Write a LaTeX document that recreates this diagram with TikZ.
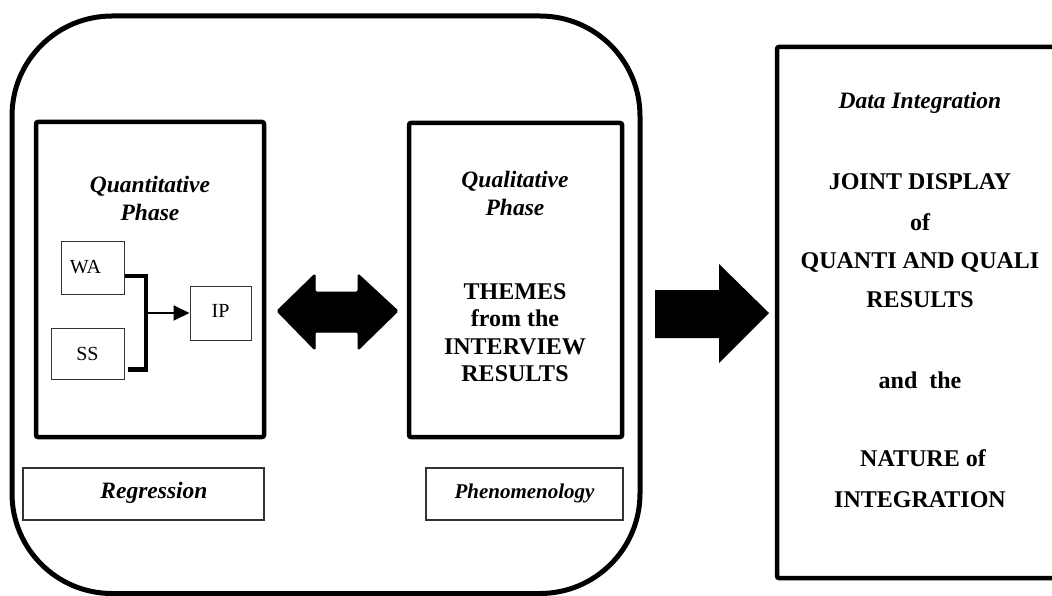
\documentclass[tikz,border=0pt]{standalone}
\usepackage{fontspec}
\setmainfont{Liberation Serif}
\usetikzlibrary{arrows.meta}
\begin{document}
\begin{tikzpicture}[x=1pt,y=-1pt,
  bigbox/.style={draw, line width=4.5pt, rounded corners=2pt, inner sep=0pt},
  smallbox/.style={draw=black!80, line width=1pt, inner sep=0pt},
  methodbox/.style={draw=black!80, line width=1.2pt, inner sep=0pt},
  bi/.style={font=\fontsize{23.5}{28}\selectfont\bfseries\itshape, align=center, inner sep=0pt},
  bb/.style={font=\fontsize{24}{27.5}\selectfont\bfseries, align=center, inner sep=0pt},
  rm/.style={font=\fontsize{20}{24}\selectfont},
  conn/.style={line width=4pt},
  fatarrow/.style={fill=black, draw=black, line width=1pt}
]
\useasboundingbox (0,0) rectangle (1052,596);
\fill[white] (0,0) rectangle (1052,596);

% outer rounded frame
\draw[line width=5pt, rounded corners=100pt] (12,16) rectangle (640,593.5);

% quantitative phase
\node[bigbox, minimum width=228pt, minimum height=315pt] (quant) at (150,279.5) {};
\node[bi] (quantt) at (150,198) {Quantitative\\Phase};
\node[smallbox, rm, minimum width=63pt, minimum height=53pt] (WA) at (92.5,267.5) {WA\kern14pt\relax};
\node[smallbox, rm, minimum width=73pt, minimum height=51pt] (SS) at (87.5,353.5) {SS};
\node[smallbox, rm, minimum width=61pt, minimum height=54pt] (IP) at (220.5,313) {\raisebox{5pt}{IP}};
\coordinate (j1) at (146,276);
\coordinate (j2) at (146,371.5);
\coordinate (j3) at (146,313);
\coordinate (ss1) at (128,369.5);
\draw[conn] (WA.east |- j1) -- ([xshift=2pt]j1);
\draw[conn] ([yshift=2pt]j1) -- (j2);
\draw[line width=5pt] (ss1) -- ([xshift=2pt]j2 |- ss1);
\draw[line width=2pt, -{Triangle[length=16pt,width=15pt]}] (j3) -- (IP.west);

\node[methodbox, minimum width=241pt, minimum height=52pt] (regb) at (143.5,494) {};
\node[bi] (regt) at (154,493) {Regression};

% qualitative phase
\node[bigbox, minimum width=213pt, minimum height=314pt] (qual) at (515.5,280) {};
\node[bi] (qualt) at (515,193) {Qualitative\\Phase};
\node[bb] (themes) at (515,332.5) {THEMES\\from the\\INTERVIEW\\RESULTS};
\node[methodbox, minimum width=197pt, minimum height=52pt] (phenb) at (524.5,494) {};
\node[bi, font=\fontsize{21}{25}\selectfont\bfseries\itshape] (phent) at (524.5,493) {Phenomenology};

% double arrow
\filldraw[fatarrow, rounded corners=1.5pt] (277,311) -- (315,274) -- (315,292) -- (358,292) -- (358,274)
  -- (398,311) -- (358,350) -- (358,332) -- (315,332) -- (315,350) -- cycle;

% right arrow
\fill[black] (655,290) -- (719,290) -- (719,264) -- (769,313) -- (719,363) -- (719,338) -- (655,338) -- cycle;

% data integration
\node[bigbox, minimum width=285pt, minimum height=531pt] (data) at (919.5,312.5) {};
\node[bi] (d0) at (920,103) {Data Integration};
\node[bb] (d1) at (920,182) {JOINT DISPLAY};
\node[bb] (d2) at (920,222) {of};
\node[bb] (d3) at (920,262) {QUANTI AND QUALI};
\node[bb] (d4) at (920,300) {RESULTS};
\node[bb] (d5) at (920,380) {and\ \ the};
\node[bb] (d6) at (923,458) {NATURE of};
\node[bb] (d7) at (920,500) {INTEGRATION};
\end{tikzpicture}
\end{document}
